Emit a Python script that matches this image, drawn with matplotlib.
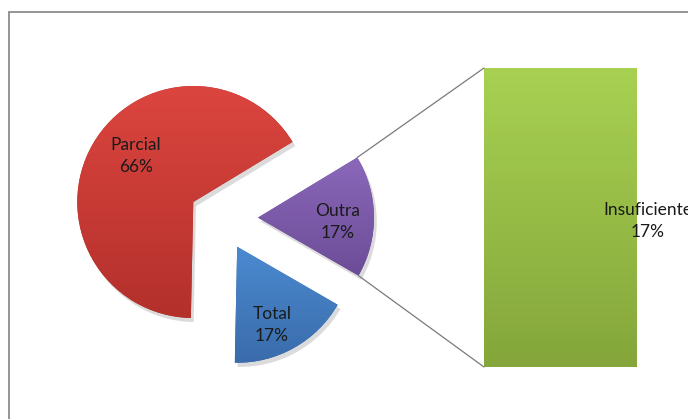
import numpy as np
import matplotlib
matplotlib.use("Agg")
import matplotlib.pyplot as plt
from matplotlib.patches import Rectangle, ConnectionPatch
from matplotlib.colors import LinearSegmentedColormap
import matplotlib.patheffects as pe

# ---- data ----
pie_labels = ["Outra", "Parcial", "Total"]
pie_values = [17, 66, 17]
bar_labels = ["Insuficiente"]
bar_values = [17]

# ---- style ----
pie_top = ["#8b68ba", "#dc453f", "#4b8ad0"]
pie_bottom = ["#6c4c97", "#b3302b", "#3a6cab"]
bar_top, bar_bottom = "#a8d152", "#84a63a"
explode = [37, 32, 33]   # offsets in pixels (data units)

W, H = 688, 419
plt.rcParams['font.family'] = ['Lato', 'DejaVu Sans']
fig = plt.figure(figsize=(W / 100, H / 100), dpi=100)
ax = fig.add_axes([0, 0, 1, 1])

wedges, _ = ax.pie(pie_values, explode=explode, startangle=-30,
                   center=(221, H - 218), radius=116, counterclock=True,
                   frame=True, wedgeprops=dict(linewidth=0))
ax.set_xlim(0, W)
ax.set_ylim(0, H)
ax.set_aspect('equal')
ax.axis('off')


def grad_fill(axis, patch, top, bottom):
    cmap = LinearSegmentedColormap.from_list("g", [top, bottom])
    fig.canvas.draw_idle()
    bb = patch.get_window_extent(renderer=fig.canvas.get_renderer())
    inv = axis.transData.inverted()
    (x0, y0), (x1, y1) = inv.transform([[bb.x0, bb.y0], [bb.x1, bb.y1]])
    grad = np.linspace(0, 1, 256).reshape(-1, 1)
    im = axis.imshow(grad, extent=[x0, x1, y0, y1], origin='upper',
                     cmap=cmap, aspect='auto', zorder=patch.get_zorder() + 0.1,
                     interpolation='bilinear')
    im.set_clip_path(patch)


shadow = [pe.SimplePatchShadow(offset=(2, -3), shadow_rgbFace='#999999', alpha=0.35), pe.Normal()]
for w, t, b in zip(wedges, pie_top, pie_bottom):
    w.set_facecolor(b)
    w.set_path_effects(shadow)
    grad_fill(ax, w, t, b)
ax.set_xlim(0, W)
ax.set_ylim(0, H)

FS = 12.5
LS = 1.45
# labels on pie (pixel positions)
label_pos = {"Parcial": (136, 156), "Outra": (338, 222), "Total": (272, 325)}
for lab, val in zip(pie_labels, pie_values):
    x, y = label_pos[lab]
    ax.text(x, H - y, f"{lab}\n{val}%", ha='center', va='center', fontsize=FS,
            color='#1a1a1a', linespacing=LS, zorder=10)

# ---- bar of pie ----
bax = fig.add_axes([484 / W, (H - 367) / H, 152 / W, 299 / H])
bars = bax.bar([0], bar_values, width=1, color=bar_bottom, linewidth=0)
bax.set_xlim(-0.5, 0.5)
bax.set_ylim(0, bar_values[0])
bax.axis('off')
for bp in bars:
    bp.set_path_effects(shadow)
    grad_fill(bax, bp, bar_top, bar_bottom)
bax.set_xlim(-0.5, 0.5)
bax.set_ylim(0, bar_values[0])

fig.text(648 / W, 1 - 221 / H, f"{bar_labels[0]}\n{bar_values[0]}%", ha='center', va='center',
         fontsize=FS, color='#1a1a1a', linespacing=LS, zorder=10)

# connector lines from the "Outra" wedge to the bar
w = wedges[0]
cx, cy = w.center
r = w.r
p_top = (cx + r * np.cos(np.radians(w.theta2)), cy + r * np.sin(np.radians(w.theta2)))
p_bot = (cx + r * np.cos(np.radians(w.theta1)), cy + r * np.sin(np.radians(w.theta1)))
for pa, pb in [(p_top, (0, 1)), (p_bot, (0, 0))]:
    con = ConnectionPatch(xyA=pa, coordsA=ax.transData, xyB=pb, coordsB=bax.transAxes,
                          color='#7a7a7a', lw=0.9, zorder=1)
    fig.add_artist(con)

# chart border
ax.add_patch(Rectangle((8.5, -10), 700, H - 12.5 + 10, fill=False,
                       edgecolor='#8c8c8c', lw=1.3, clip_on=False))

fig.savefig("out.png", dpi=100)
